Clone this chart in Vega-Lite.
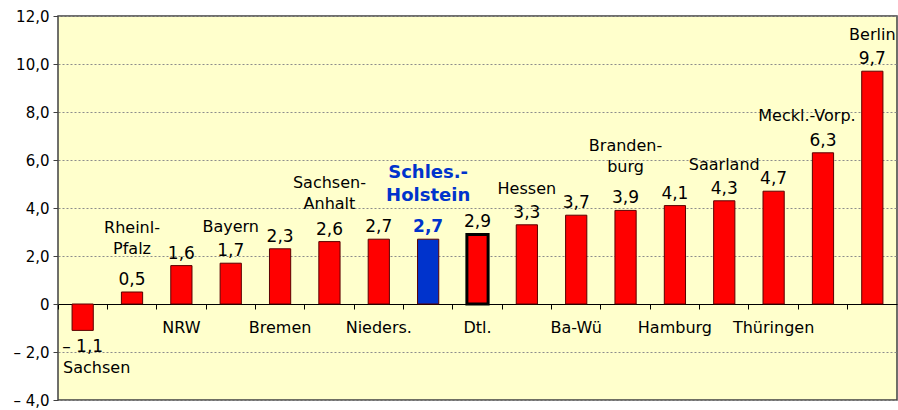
{
  "$schema": "https://vega.github.io/schema/vega-lite/v6.json",
  "width": 839,
  "height": 384,
  "autosize": {"type": "none"},
  "padding": {"left": 58, "top": 16, "right": 1, "bottom": 10},
  "background": "white",
  "config": {
    "locale": {"number": {"decimal": ",", "thousands": ".", "grouping": [3], "currency": ["", " €"], "minus": "– "}},
    "view": {"fill": "#FFFFCC", "stroke": "#404040", "strokeWidth": 1.5},
    "font": "DejaVu Sans",
    "text": {"font": "DejaVu Sans", "lineBreak": "\n"}
  },
  "data": {
    "values": [
      {"land": "Sachsen", "wert": -1.1},
      {"land": "Rheinl-\nPfalz", "wert": 0.5},
      {"land": "NRW", "wert": 1.6},
      {"land": "Bayern", "wert": 1.7},
      {"land": "Bremen", "wert": 2.3},
      {"land": "Sachsen-\nAnhalt", "wert": 2.6},
      {"land": "Nieders.", "wert": 2.7},
      {"land": "Schles.-\nHolstein", "wert": 2.7},
      {"land": "Dtl.", "wert": 2.9},
      {"land": "Hessen", "wert": 3.3},
      {"land": "Ba-Wü", "wert": 3.7},
      {"land": "Branden-\nburg", "wert": 3.9},
      {"land": "Hamburg", "wert": 4.1},
      {"land": "Saarland", "wert": 4.3},
      {"land": "Thüringen", "wert": 4.7},
      {"land": "Meckl.-Vorp.", "wert": 6.3},
      {"land": "Berlin", "wert": 9.7}
    ]
  },
  "encoding": {
    "x": {
      "field": "land", "type": "nominal", "sort": null,
      "scale": {"paddingInner": 0, "paddingOuter": 0},
      "axis": {
        "title": null, "labels": false, "orient": "bottom", "offset": -96,
        "bandPosition": 0, "domainColor": "#000000", "domainWidth": 1,
        "tickColor": "#000000", "tickSize": 5, "grid": false
      }
    },
    "y": {
      "field": "wert", "type": "quantitative",
      "scale": {"domain": [-4, 12], "nice": false, "zero": false},
      "axis": {
        "title": null, "values": [-4, -2, 0, 2, 4, 6, 8, 10, 12],
        "format": ".1f",
        "labelExpr": "datum.value === 0 ? '0' : datum.label",
        "labelFontSize": 15, "labelColor": "#000000", "labelPadding": 4,
        "tickSize": 5, "tickColor": "#404040", "domain": false,
        "gridColor": "#8c8c8c", "gridDash": [2, 2], "gridWidth": 1
      }
    }
  },
  "layer": [
    {
      "mark": {"type": "bar", "width": {"band": 0.43}},
      "encoding": {
        "color": {
          "condition": {"test": "datum.land === 'Schles.-\\nHolstein'", "value": "#0033CC"},
          "value": "#FF0000"
        },
        "stroke": {
          "condition": {"test": "datum.land === 'Dtl.'", "value": "#000000"},
          "value": "#5a0000"
        },
        "strokeWidth": {
          "condition": {"test": "datum.land === 'Dtl.'", "value": 3},
          "value": 1
        }
      }
    },
    {
      "transform": [{"filter": "datum.wert >= 0 && datum.land !== 'Schles.-\\nHolstein'"}],
      "mark": {"type": "text", "baseline": "bottom", "dy": -3, "fontSize": 17, "color": "#000000"},
      "encoding": {"text": {"field": "wert", "type": "quantitative", "format": ".1f"}}
    },
    {
      "transform": [{"filter": "datum.land === 'Schles.-\\nHolstein'"}],
      "mark": {"type": "text", "baseline": "bottom", "dy": -3, "fontSize": 17, "fontWeight": "bold", "color": "#0033CC"},
      "encoding": {"text": {"field": "wert", "type": "quantitative", "format": ".1f"}}
    },
    {
      "transform": [{"filter": "datum.land === 'Schles.-\\nHolstein'"}],
      "mark": {"type": "text", "baseline": "bottom", "dy": -57, "fontSize": 18, "fontWeight": "bold", "color": "#0033CC", "lineHeight": 23},
      "encoding": {"text": {"field": "land", "type": "nominal"}}
    },
    {
      "transform": [{"filter": "datum.wert < 0"}],
      "mark": {"type": "text", "baseline": "top", "dy": 9, "fontSize": 17, "color": "#000000"},
      "encoding": {"text": {"field": "wert", "type": "quantitative", "format": ".1f"}}
    },
    {
      "transform": [{"filter": "datum.wert < 0"}],
      "mark": {"type": "text", "baseline": "top", "dy": 30, "dx": 14, "fontSize": 16, "color": "#000000"},
      "encoding": {"text": {"field": "land", "type": "nominal"}}
    },
    {
      "transform": [{"filter": {"field": "land", "oneOf": ["Bayern", "Hessen", "Saarland", "Berlin"]}}],
      "mark": {"type": "text", "baseline": "bottom", "dy": -28, "fontSize": 16, "color": "#000000"},
      "encoding": {"text": {"field": "land", "type": "nominal"}}
    },
    {
      "transform": [{"filter": {"field": "land", "equal": "Meckl.-Vorp."}}],
      "mark": {"type": "text", "baseline": "bottom", "dy": -29, "dx": -16, "fontSize": 16, "color": "#000000"},
      "encoding": {"text": {"field": "land", "type": "nominal"}}
    },
    {
      "transform": [{"filter": {"field": "land", "oneOf": ["Rheinl-\nPfalz", "Branden-\nburg"]}}],
      "mark": {"type": "text", "baseline": "bottom", "dy": -56, "fontSize": 16, "color": "#000000", "lineHeight": 21},
      "encoding": {"text": {"field": "land", "type": "nominal"}}
    },
    {
      "transform": [{"filter": {"field": "land", "equal": "Sachsen-\nAnhalt"}}],
      "mark": {"type": "text", "baseline": "bottom", "dy": -51, "fontSize": 16, "color": "#000000", "lineHeight": 21},
      "encoding": {"text": {"field": "land", "type": "nominal"}}
    },
    {
      "transform": [{"filter": {"field": "land", "oneOf": ["NRW", "Bremen", "Nieders.", "Dtl.", "Ba-Wü", "Hamburg", "Thüringen"]}}],
      "mark": {"type": "text", "baseline": "middle", "dy": 24, "fontSize": 16, "color": "#000000"},
      "encoding": {
        "y": {"datum": 0, "type": "quantitative"},
        "text": {"field": "land", "type": "nominal"}
      }
    }
  ]
}
